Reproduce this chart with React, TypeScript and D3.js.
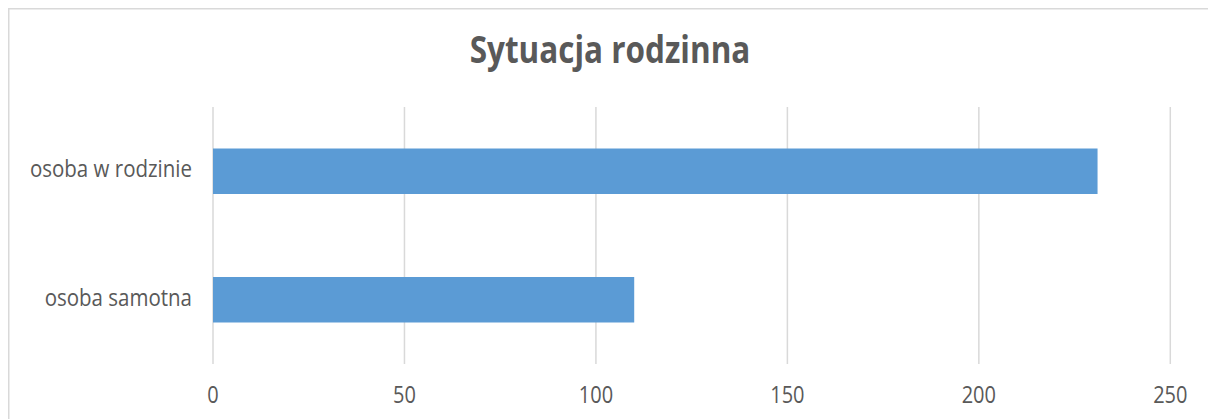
import { useEffect, useRef } from 'react';
import * as d3 from 'd3';

const CATEGORIES = ['osoba w rodzinie', 'osoba samotna'];
const VALUES = [231, 110];
const X_TICKS = [0, 50, 100, 150, 200, 250];
const TITLE = 'Sytuacja rodzinna';

export default function App() {
  const svgRef = useRef<SVGSVGElement>(null);

  useEffect(() => {
    const el = svgRef.current;
    if (!el) return;
    const svg = d3.select(el);
    svg.selectAll('*').remove();

    const W = 1200;
    const H = 411;
    const font = "'Open Sans', sans-serif";
    const stretch = 1.18; // source text looks vertically stretched

    // chart border (right / bottom edges fall outside the crop)
    svg.append('path')
      .attr('d', `M0.75,${H}V0.75H${W}`)
      .attr('fill', 'none').attr('stroke', '#d9d9d9').attr('stroke-width', 1.5);

    const x = d3.scaleLinear().domain([0, 250]).range([205, 1162.3]);
    const y = d3.scaleBand().domain(CATEGORIES).range([99, 356]).paddingInner(0.646).paddingOuter(0.323);

    // gridlines
    svg.append('g').selectAll('line').data(X_TICKS).join('line')
      .attr('x1', (d) => x(d)).attr('x2', (d) => x(d))
      .attr('y1', 99).attr('y2', 356)
      .attr('stroke', '#d9d9d9').attr('stroke-width', 1.5);

    // bars
    svg.append('g').selectAll('rect').data(VALUES).join('rect')
      .attr('x', x(0))
      .attr('y', (_, i) => y(CATEGORIES[i]) as number)
      .attr('width', (d) => x(d) - x(0))
      .attr('height', y.bandwidth())
      .attr('fill', '#5b9bd5');

    // tick labels
    svg.append('g').selectAll('text').data(X_TICKS).join('text')
      .attr('transform', (d) => `translate(${x(d)},395) scale(1,${stretch})`)
      .attr('text-anchor', 'middle')
      .attr('font-family', font).attr('font-size', 20).attr('fill', '#595959')
      .text((d) => d);

    // category labels
    svg.append('g').selectAll('text').data(CATEGORIES).join('text')
      .attr('transform', (d) => `translate(184,${(y(d) as number) + y.bandwidth() / 2 + 6}) scale(1,${stretch})`)
      .attr('text-anchor', 'end')
      .attr('font-family', font).attr('font-size', 20.5).attr('fill', '#595959')
      .text((d) => d);

    // title
    svg.append('text')
      .attr('transform', `translate(602,55) scale(1,${stretch})`)
      .attr('text-anchor', 'middle')
      .attr('font-family', font).attr('font-size', 31.5).attr('font-weight', 700).attr('fill', '#595959')
      .text(TITLE);
  }, []);

  return (
    <div style={{ position: 'fixed', left: 0, top: 0, width: 1208, height: 419, background: '#fff', overflow: 'hidden' }}>
      <svg ref={svgRef} width={1200} height={411} style={{ position: 'absolute', left: 8, top: 8 }} />
    </div>
  );
}
